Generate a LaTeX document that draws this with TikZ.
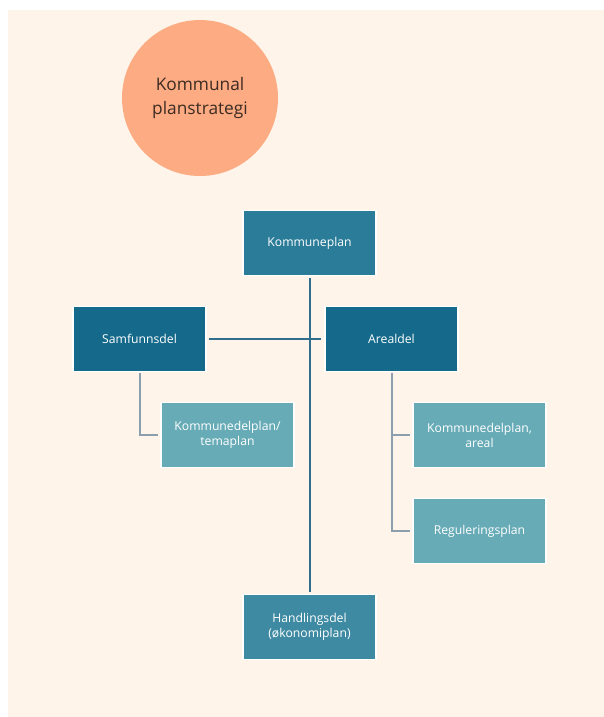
\documentclass[tikz,border=0pt]{standalone}
\usepackage{fontspec}
\setmainfont{Open Sans}
\definecolor{bgcream}{HTML}{FEF4EA}
\definecolor{circfill}{HTML}{FDAB82}
\definecolor{circtext}{HTML}{3B2B22}
\definecolor{topbox}{HTML}{2B7C98}
\definecolor{midbox}{HTML}{156A8B}
\definecolor{lightbox}{HTML}{67ABB7}
\definecolor{botbox}{HTML}{3E8AA2}
\definecolor{mainline}{HTML}{2F6E8C}
\definecolor{subline}{HTML}{8B9FAF}
\tikzset{
  planbox/.style={draw=white, line width=1.2pt, minimum width=133pt, minimum height=65pt,
    text=white, align=center, font=\fontsize{12.2}{15}\selectfont, inner sep=0pt},
  mainconn/.style={draw=mainline, line width=2pt},
  subconn/.style={draw=subline, line width=2pt},
}
\begin{document}
\begin{tikzpicture}[x=1pt,y=-1pt]
\useasboundingbox (0,0) rectangle (604,717);
\fill[white] (-5,-5) rectangle (610,722);
\fill[bgcream] (8,10.5) rectangle (610,722);
\node[circle, fill=circfill, minimum size=156pt, inner sep=0pt, text=circtext,
  align=center, font=\fontsize{17.3}{24}\selectfont] (ks) at (200,98) {Kommunal\\planstrategi};
\node[planbox, fill=topbox] (kp) at (309.5,243) {Kommuneplan};
\node[planbox, fill=midbox] (sd) at (139.5,339) {Samfunnsdel};
\node[planbox, fill=midbox] (ad) at (391.5,339) {Arealdel};
\node[planbox, fill=lightbox] (kt) at (227.5,435) {Kommunedelplan/\\temaplan};
\node[planbox, fill=lightbox] (ka) at (479.5,435) {Kommunedelplan,\\areal};
\node[planbox, fill=lightbox] (rp) at (479.5,531) {Reguleringsplan};
\node[planbox, fill=botbox] (hd) at (309.5,627) {Handlingsdel\\(økonomiplan)};
\draw[mainconn, shorten <=2pt, shorten >=2pt] (kp.south) -- (hd.north);
\draw[mainconn, shorten <=2pt, shorten >=3pt] (sd.east) -- (ad.west);
\draw[subconn, shorten <=1pt, shorten >=2pt] (sd.south) |- (kt.west);
\draw[subconn, shorten <=1pt, shorten >=2pt] (ad.south) |- (ka.west);
\draw[subconn, shorten <=1pt, shorten >=2pt] (ad.south) |- (rp.west);
\end{tikzpicture}
\end{document}
